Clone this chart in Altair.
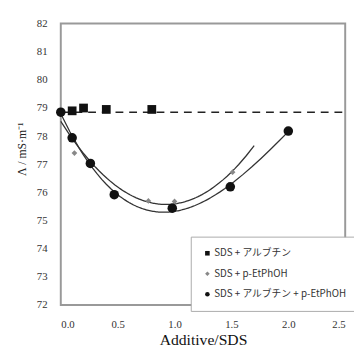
import altair as alt
import pandas as pd

series_names = ["SDS + アルブチン", "SDS + p-EtPhOH", "SDS + アルブチン + p-EtPhOH"]

arb_x = [0.1, 0.2, 0.4, 0.8]
arb_y = [78.9, 79.0, 78.95, 78.95]

etp_x = [0.0, 0.12, 0.77, 1.0, 1.51]
etp_y = [78.85, 77.4, 75.7, 75.68, 76.72]

mix_x = [0.0, 0.1, 0.26, 0.47, 0.98, 1.49, 2.0]
mix_y = [78.85, 77.94, 77.03, 75.92, 75.44, 76.2, 78.18]

base_x = [0.0, 2.5]
base_y = [78.85, 78.85]

x_ticks = [0.0, 0.5, 1.0, 1.5, 2.0, 2.5]
y_ticks = list(range(72, 83))

arb_df = pd.DataFrame({"x": arb_x, "y": arb_y, "s": series_names[0]})
etp_df = pd.DataFrame({"x": etp_x, "y": etp_y, "s": series_names[1]})
mix_df = pd.DataFrame({"x": mix_x, "y": mix_y, "s": series_names[2]})
base_df = pd.DataFrame({"x": base_x, "y": base_y})

serif = "Liberation Serif"
xs = alt.Scale(domain=[0, 2.5], nice=False)
ys = alt.Scale(domain=[72, 82], nice=False)

xaxis = alt.Axis(
    values=x_ticks, format=".1f", title="Additive/SDS", ticks=False, domain=False,
    grid=False, labelFont=serif, labelFontSize=11, labelColor="#333",
    labelPadding=14, labelOverlap=False, titleFont=serif, titleFontSize=16,
    titleFontWeight="normal", titleColor="#111", titleY=35, titleBaseline="middle")
yaxis = alt.Axis(
    values=y_ticks, title="Λ / mS·m⁻¹", ticks=False, domain=False, grid=False,
    labelFont=serif, labelFontSize=11, labelColor="#333", labelPadding=14,
    labelOverlap=False,
    titleFont=serif, titleFontSize=12, titleFontWeight="normal", titleColor="#222",
    titleX=-40, titleY=128, titleAngle=270, titleAlign="center",
    titleBaseline="middle")

xenc = alt.X("x:Q", scale=xs, axis=xaxis)
yenc = alt.Y("y:Q", scale=ys, axis=yaxis)

color_enc = alt.Color(
    "s:N", sort=series_names,
    scale=alt.Scale(domain=series_names, range=["#111", "#888", "#111"]),
    legend=alt.Legend(title=None, orient="none", legendX=133, legendY=218,
                      padding=12, strokeColor="#aaa", fillColor="white",
                      labelFont="Noto Sans CJK JP", labelFontSize=10,
                      labelColor="#333", rowPadding=11, symbolSize=22,
                      labelOffset=2, symbolStrokeWidth=0))
shape_enc = alt.Shape(
    "s:N", sort=series_names,
    scale=alt.Scale(domain=series_names, range=["square", "diamond", "circle"]))

dash = alt.Chart(base_df).mark_line(color="#222", strokeWidth=1.5,
                                    strokeDash=[8, 6]).encode(x=xenc, y=yenc)

reg_mix = alt.Chart(mix_df).transform_regression(
    "x", "y", method="poly", order=3).mark_line(
    color="#333", strokeWidth=1.3).encode(x=xenc, y=yenc)

reg_etp = alt.Chart(etp_df).transform_regression(
    "x", "y", method="poly", order=2, extent=[0, 1.7]).mark_line(
    color="#333", strokeWidth=1.3).encode(x=xenc, y=yenc)


def pts(df, size):
    return alt.Chart(df).mark_point(filled=True, opacity=1, strokeWidth=0,
                                    size=size).encode(
        x=xenc, y=yenc, color=color_enc, shape=shape_enc)


chart = alt.layer(dash, reg_etp, reg_mix,
                  pts(arb_df, 80), pts(etp_df, 34), pts(mix_df, 95)).properties(
    width=291, height=288,
    autosize=alt.AutoSizeParams(type="none"),
    padding={"left": 54, "top": 12, "right": 9, "bottom": 40},
    background="white",
).configure_view(stroke="#999999", strokeWidth=2).configure_axis(
    labelFont=serif, titleFont=serif)

chart.save("out.html", embed_options={"renderer": "svg", "actions": False})
